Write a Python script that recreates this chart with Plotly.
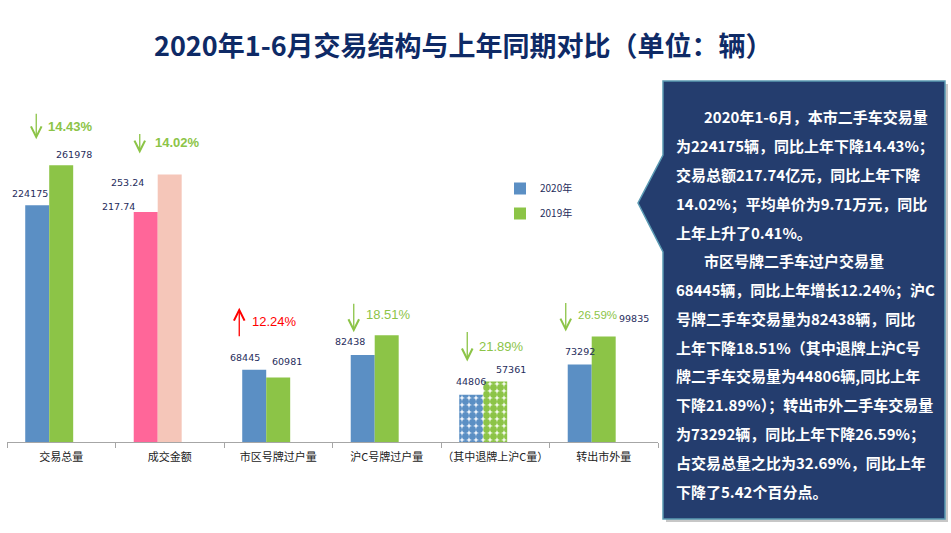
import plotly.graph_objects as go

# ---------------- data ----------------
categories = ["交易总量", "成交金额", "市区号牌过户量", "沪C号牌过户量", "（其中退牌上沪C量）", "转出市外量"]
count_2020 = [224175, None, 68445, 82438, 44806, 73292]
count_2019 = [261978, None, 60981, 101163, 57361, 99835]
amount_cat = ["成交金额"]
amount_2020 = [217.74]   # 亿元
amount_2019 = [253.24]
change_text = ["14.43%", "14.02%", "12.24%", "18.51%", "21.89%", "26.59%"]
change_dir = ["down", "down", "up", "down", "down", "down"]
show_label_2020 = [True, True, True, True, True, True]
show_label_2019 = [True, True, True, False, True, True]

panel_lines = [
    "2020年1-6月，本市二手车交易量",
    "为224175辆，同比上年下降14.43%；",
    "交易总额217.74亿元，同比上年下降",
    "14.02%；平均单价为9.71万元，同比",
    "上年上升了0.41%。",
    "市区号牌二手车过户交易量",
    "68445辆，同比上年增长12.24%；沪C",
    "号牌二手车交易量为82438辆，同比",
    "上年下降18.51%（其中退牌上沪C号",
    "牌二手车交易量为44806辆,同比上年",
    "下降21.89%）；转出市外二手车交易量",
    "为73292辆，同比上年下降26.59%；",
    "占交易总量之比为32.69%，同比上年",
    "下降了5.42个百分点。",
]
panel_indent = [True, False, False, False, False, True, False, False, False, False, False, False, False, False]

# ---------------- style ----------------
W, H = 951, 533
BLUE = "#5b8fc4"
GREEN = "#8cc447"
PINK = "#ff6699"
SALMON = "#f5c6b9"
NAVY = "#1f2d5c"
PANEL = "#243d6e"
CJK = "Noto Sans CJK SC"

def px(x):
    return x / W

def py(y):
    return 1 - y / H

bar_w = 0.221
off_2020 = -0.332
off_2019 = -0.111
Y_MAX = 320000

pattern_shapes = ["" if c != "（其中退牌上沪C量）" else "." for c in categories]

fig = go.Figure()
fig.add_trace(go.Bar(
    x=categories, y=count_2020, name="2020年", legendgroup="a",
    width=bar_w, offset=off_2020,
    marker=dict(color=BLUE, line=dict(width=0),
                pattern=dict(shape=pattern_shapes, fillmode="replace", bgcolor="#eef3fa",
                             fgcolor=BLUE, size=7, solidity=0.75)),
))
fig.add_trace(go.Bar(
    x=categories, y=count_2019, name="2019年", legendgroup="b",
    width=bar_w, offset=off_2019,
    marker=dict(color=GREEN, line=dict(width=0),
                pattern=dict(shape=pattern_shapes, fillmode="replace", bgcolor="#f2f9ea",
                             fgcolor=GREEN, size=7, solidity=0.75)),
))
fig.add_trace(go.Bar(
    x=amount_cat, y=amount_2020, yaxis="y2", showlegend=False,
    width=bar_w, offset=off_2020, marker=dict(color=PINK, line=dict(width=0)),
))
fig.add_trace(go.Bar(
    x=amount_cat, y=amount_2019, yaxis="y2", showlegend=False,
    width=bar_w, offset=off_2019, marker=dict(color=SALMON, line=dict(width=0)),
))

annotations = []

# value labels (pixel offsets from bar top / category centre)
lab_dx_2020 = [-31, -51, -33, -37, -24, -24]
lab_dy_2020 = [12, 6, 12, 13, 13, 13]
lab_dx_2019 = [13, -42, 9, 0, 16, 30]
lab_dy_2019 = [11, -8, 16, 11, 12, 18]

for i, c in enumerate(categories):
    if c == "成交金额":
        v20, v19, yr = amount_2020[0], amount_2019[0], "y2"
        t20, t19 = f"{v20:.2f}", f"{v19:.2f}"
    else:
        v20, v19, yr = count_2020[i], count_2019[i], "y"
        t20, t19 = str(v20), str(v19)
    if show_label_2020[i]:
        annotations.append(dict(x=c, y=v20, xref="x", yref=yr, text=t20, showarrow=False,
                                xshift=lab_dx_2020[i], yshift=lab_dy_2020[i],
                                font=dict(family="DejaVu Sans", size=9.5, color=NAVY)))
    if show_label_2019[i]:
        annotations.append(dict(x=c, y=v19, xref="x", yref=yr, text=t19, showarrow=False,
                                xshift=lab_dx_2019[i], yshift=lab_dy_2019[i],
                                font=dict(family="DejaVu Sans", size=9.5, color=NAVY)))

# change arrows + percentages
arr_dx = [-25, -30, -39, -33, -28, -38]
arr_dy = [26, 21, 62, 3, 20, 5]
arr_len = [27, 21, 30, 30, 31, 30]
txt_dx = [-15, -17, -28, -23, -18, -28]
txt_dy = [39, 32, 48, 21, 35, 22]
txt_bold = [True, True, False, False, False, False]
txt_size = [13, 13, 13, 13, 13, 11.5]

for i, c in enumerate(categories):
    if c == "成交金额":
        top, yr = max(amount_2020[0], amount_2019[0]), "y2"
    else:
        top, yr = max(count_2020[i], count_2019[i]), "y"
    col = "#ff0000" if change_dir[i] == "up" else GREEN
    ay = arr_len[i] if change_dir[i] == "up" else -arr_len[i]
    annotations.append(dict(x=c, y=top, xref="x", yref=yr, text="", showarrow=True,
                            ax=0, ay=ay, xshift=arr_dx[i], yshift=arr_dy[i],
                            arrowhead=5, arrowsize=1.6, arrowwidth=1.3, arrowcolor=col))
    t = f"<b>{change_text[i]}</b>" if txt_bold[i] else change_text[i]
    annotations.append(dict(x=c, y=top, xref="x", yref=yr, text=t, showarrow=False,
                            xanchor="left", yanchor="middle",
                            xshift=txt_dx[i], yshift=txt_dy[i],
                            font=dict(family="Liberation Sans", size=txt_size[i], color=col)))

# title
annotations.append(dict(x=px(463), y=py(44), xref="paper", yref="paper", showarrow=False,
                        xanchor="center", yanchor="middle",
                        text="<b>2020年1-6月交易结构与上年同期对比（单位：辆）</b>",
                        font=dict(family=CJK, size=27, color="#0e2a66")))

# panel text
for i, line in enumerate(panel_lines):
    x0 = 702 if panel_indent[i] else 674
    annotations.append(dict(x=px(x0), y=py(117 + 28.77 * i), xref="paper", yref="paper",
                            xanchor="left", yanchor="middle", showarrow=False,
                            text=f"<b>{line}</b>",
                            font=dict(family=CJK, size=15, color="white")))

# panel shape
def path(pts, dx=0, dy=0):
    s = "M " + " L ".join(f"{px(x + dx):.5f},{py(y + dy):.5f}" for x, y in pts) + " Z"
    return s

panel_pts = [(663, 81), (945, 81), (945, 519), (663, 519), (663, 252), (638, 203), (663, 155)]
shapes = [
    dict(type="path", xref="paper", yref="paper", path=path(panel_pts, 3, 3),
         fillcolor="rgba(0,0,0,0.22)", line=dict(width=0), layer="below"),
    dict(type="path", xref="paper", yref="paper", path=path(panel_pts),
         fillcolor=PANEL, line=dict(color="#5a9ab3", width=1.5), layer="below"),
]

fig.update_layout(
    width=W, height=H,
    margin=dict(l=0, r=0, t=0, b=0),
    paper_bgcolor="white", plot_bgcolor="white",
    barmode="overlay",
    font=dict(family=CJK, color="#333333"),
    xaxis=dict(domain=[px(7), px(658)], type="category", categoryorder="array",
               categoryarray=categories, showline=True, linecolor="#a6a6a6", linewidth=1,
               ticks="outside", tickson="boundaries", ticklen=5, tickcolor="#a6a6a6",
               tickangle=0, ticklabelstandoff=5,
               tickfont=dict(family=CJK, size=11, color="#222222"), showgrid=False,
               fixedrange=True),
    yaxis=dict(domain=[py(442), py(104)], range=[0, Y_MAX], visible=False, showgrid=False),
    yaxis2=dict(overlaying="y", range=[0, Y_MAX / 1000], visible=False, showgrid=False),
    legend=dict(x=px(500), y=py(174), xanchor="left", yanchor="top",
                font=dict(family=CJK, size=10, color=NAVY), tracegroupgap=6,
                bgcolor="rgba(0,0,0,0)"),
    annotations=annotations,
    shapes=shapes,
)

fig.write_html("out.html", config={"displayModeBar": False},
               post_script="document.body.style.margin='0';document.body.style.overflow='hidden';")
